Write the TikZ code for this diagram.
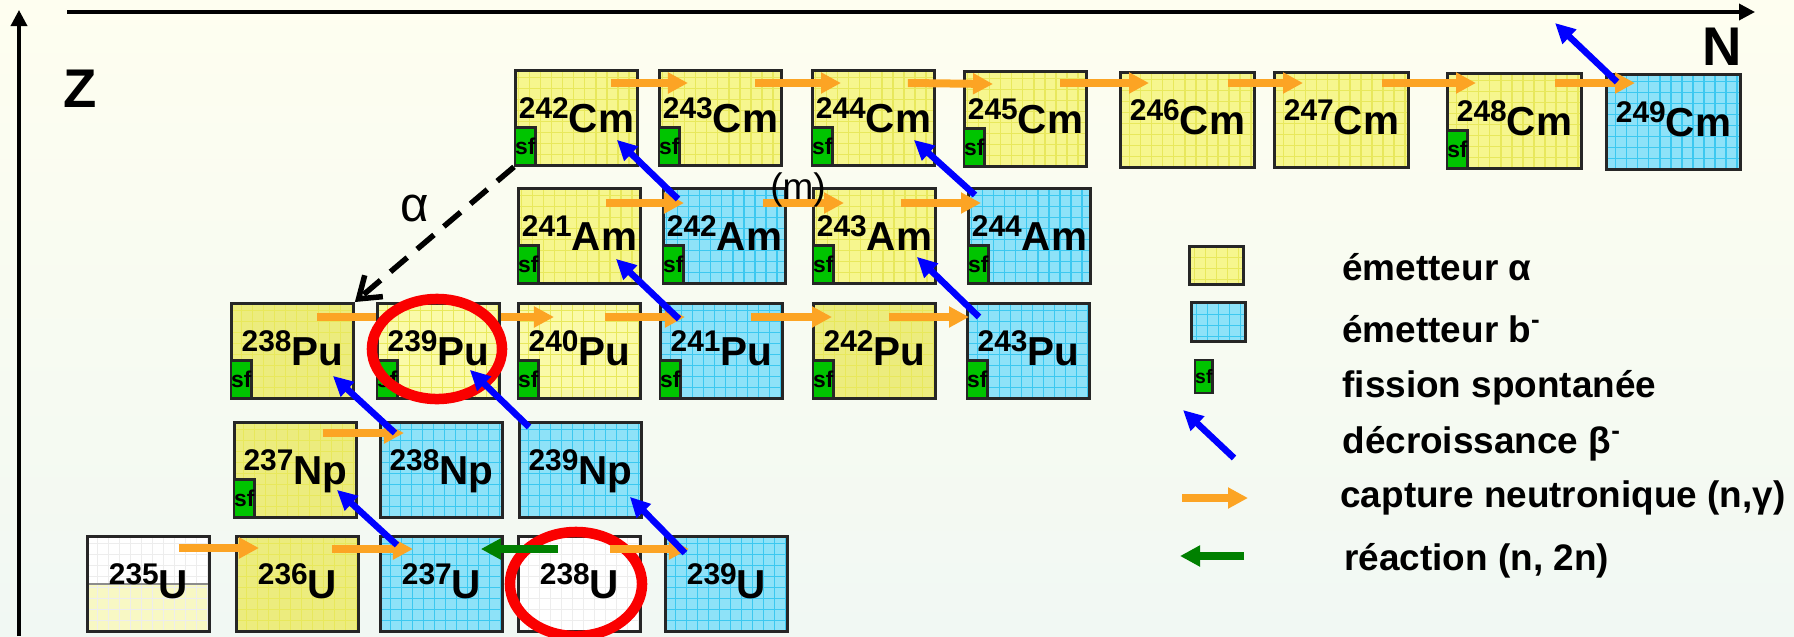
\documentclass[tikz,border=0pt]{standalone}
\usepackage{fontspec}
\setmainfont{Liberation Sans}
\usetikzlibrary{arrows.meta,calc}

\definecolor{bgtop}{RGB}{254,254,240}
\definecolor{bgbot}{RGB}{241,248,243}
\definecolor{nucyel}{RGB}{246,246,142}
\definecolor{nucyeldk}{RGB}{236,236,126}
\definecolor{nucyellt}{RGB}{250,250,168}
\definecolor{nucyelgrid}{RGB}{232,232,92}
\definecolor{nucpale}{RGB}{248,248,196}
\definecolor{nucblu}{RGB}{142,226,248}
\definecolor{nucblugrid}{RGB}{60,200,240}
\definecolor{sfgreen}{RGB}{0,196,0}
\definecolor{captorange}{RGB}{252,164,36}
\definecolor{betablue}{RGB}{0,0,255}
\definecolor{nngreen}{RGB}{0,128,0}
\definecolor{ringred}{RGB}{250,0,0}

\newcommand{\iso}[2]{\raisebox{4pt}{\fontsize{8.5}{9}\selectfont #1}#2}

\begin{document}
\begin{tikzpicture}[
    x=0.01cm, y=-0.01cm,
    nuc/.style={draw=black!85, line width=0.8pt, anchor=north west, inner sep=0pt,
        minimum width=1.22cm, minimum height=0.95cm, text height=8.2pt, text depth=0pt,
        font=\fontsize{11.5}{12}\selectfont\bfseries},
    widebox/.style={minimum width=1.34cm},
    alphaem/.style={nuc, fill=nucyel, path picture={\draw[nucyelgrid, line width=0.3pt]
        (path picture bounding box.south west) grid[step=0.11cm] (path picture bounding box.north east);}},
    alphadk/.style={alphaem, fill=nucyeldk},
    alphalt/.style={alphaem, fill=nucyellt},
    betaem/.style={nuc, fill=nucblu, path picture={\draw[nucblugrid, line width=0.3pt]
        (path picture bounding box.south west) grid[step=0.11cm] (path picture bounding box.north east);}},
    plainbox/.style={nuc, fill=white, path picture={\draw[black!7, line width=0.3pt]
        (path picture bounding box.south west) grid[step=0.11cm] (path picture bounding box.north east);}},
    halfbox/.style={nuc, fill=white, path picture={
        \fill[nucpale] (path picture bounding box.west) rectangle (path picture bounding box.south east);
        \draw[black!7, line width=0.3pt] (path picture bounding box.south west) grid[step=0.11cm] (path picture bounding box.north east);
        \draw[black!45, line width=0.6pt] (path picture bounding box.west) -- (path picture bounding box.east);}},
    sfbox/.style={draw=black!85, line width=0.7pt, fill=sfgreen, anchor=south west, inner sep=0pt,
        minimum width=0.17cm, minimum height=0.38cm, font=\fontsize{6.5}{7}\selectfont\bfseries},
    ncapt/.style={draw=captorange, line width=0.08cm, -{Triangle[length=0.2cm,width=0.2cm]}},
    nnreac/.style={draw=nngreen, line width=0.08cm, -{Triangle[length=0.2cm,width=0.2cm]}},
    betadec/.style={draw=betablue, line width=0.065cm, -{Triangle[length=0.2cm,width=0.19cm]}},
    alphadec/.style={line width=0.055cm, dash pattern=on 0.22cm off 0.13cm,
        -{Straight Barb[length=0.2cm,width=0.28cm]}},
    redring/.style={draw=ringred, line width=0.105cm},
    axis/.style={line width=1pt, -{Triangle[length=0.16cm,width=0.16cm]}},
    legtext/.style={anchor=base west, font=\fontsize{10.5}{12}\selectfont\bfseries}
]

% background
\shade[top color=bgtop, bottom color=bgbot] (0,0) rectangle (1794,636);
\useasboundingbox (0,0) rectangle (1794,636);

% axes
\coordinate (zbot) at (19,636);
\coordinate (ztop) at (19,10);
\draw[axis] (zbot) -- (ztop);
\coordinate (nstart) at (67,12);
\coordinate (nend) at (1755,12);
\draw[axis] (nstart) -- (nend);
\node[font=\fontsize{15.5}{16}\selectfont\bfseries] (zlabel) at (80,89) {Z};
\node[font=\fontsize{15.5}{16}\selectfont\bfseries] (nlabel) at (1722,47) {N};

% Cm
\node[alphaem] (cm242) at (514,69) {\iso{242}{Cm}};
\node[alphaem] (cm243) at (658,69) {\iso{243}{Cm}};
\node[alphaem] (cm244) at (811,69) {\iso{244}{Cm}};
\node[alphaem] (cm245) at (963,70) {\iso{245}{Cm}};
\node[alphaem, widebox] (cm246) at (1119,71) {\iso{246}{Cm}};
\node[alphaem, widebox] (cm247) at (1273,71) {\iso{247}{Cm}};
\node[alphaem, widebox] (cm248) at (1446,72) {\iso{248}{Cm}};
\node[betaem, widebox] (cm249) at (1605,73) {\iso{249}{Cm}};
\node[sfbox] (sfcm242) at (cm242.south west) {sf};
\node[sfbox] (sfcm243) at (cm243.south west) {sf};
\node[sfbox] (sfcm244) at (cm244.south west) {sf};
\node[sfbox] (sfcm245) at (cm245.south west) {sf};
\node[sfbox] (sfcm248) at (cm248.south west) {sf};

% Am
\node[alphaem] (am241) at (517,187) {\iso{241}{Am}};
\node[betaem] (am242) at (662,187) {\iso{242}{Am}};
\node[alphaem] (am243) at (812,187) {\iso{243}{Am}};
\node[betaem] (am244) at (967,187) {\iso{244}{Am}};
\node[sfbox] (sfam241) at (am241.south west) {sf};
\node[sfbox] (sfam242) at (am242.south west) {sf};
\node[sfbox] (sfam243) at (am243.south west) {sf};
\node[sfbox] (sfam244) at (am244.south west) {sf};

% Pu (239Pu comes after the captures)
\node[alphadk] (pu238) at (230,302) {\iso{238}{Pu}};
\coordinate (pu239nw) at (376,302);
\coordinate (pu239ne) at (498,302);
\node[alphalt] (pu240) at (517,302) {\iso{240}{Pu}};
\node[betaem] (pu241) at (659,302) {\iso{241}{Pu}};
\node[alphadk] (pu242) at (812,302) {\iso{242}{Pu}};
\node[betaem] (pu243) at (966,302) {\iso{243}{Pu}};
\node[sfbox] (sfpu238) at (pu238.south west) {sf};
\node[sfbox] (sfpu240) at (pu240.south west) {sf};
\node[sfbox] (sfpu241) at (pu241.south west) {sf};
\node[sfbox] (sfpu242) at (pu242.south west) {sf};
\node[sfbox] (sfpu243) at (pu243.south west) {sf};

% Np
\node[alphadk] (np237) at (233,421) {\iso{237}{Np}};
\node[betaem] (np238) at (379,421) {\iso{238}{Np}};
\node[betaem] (np239) at (518,421) {\iso{239}{Np}};
\node[sfbox] (sfnp237) at (np237.south west) {sf};

% U
\node[halfbox] (u235) at (86,535) {\iso{235}{U}};
\node[alphadk] (u236) at (235,535) {\iso{236}{U}};
\node[betaem] (u237) at (379,535) {\iso{237}{U}};
\node[plainbox] (u238) at (517,535) {\iso{238}{U}};
\node[betaem] (u239) at (664,535) {\iso{239}{U}};

\draw[redring] (576,584) ellipse [x radius=0.66cm, y radius=0.52cm];

% neutron captures
\draw[ncapt] ($(cm242.north east)+(-28,14)$) -- ($(cm243.north west)+(30,14)$);
\draw[ncapt] ($(cm243.north east)+(-28,14)$) -- ($(cm244.north west)+(30,14)$);
\draw[ncapt] ($(cm244.north east)+(-28,14)$) -- ($(cm245.north west)+(30,14)$);
\draw[ncapt] ($(cm245.north east)+(-28,13)$) -- ($(cm246.north west)+(30,12)$);
\draw[ncapt] ($(cm246.north east)+(-28,12)$) -- ($(cm247.north west)+(30,12)$);
\draw[ncapt] ($(cm247.north east)+(-28,12)$) -- ($(cm248.north west)+(30,11)$);
\draw[ncapt] ($(cm248.north east)+(-28,11)$) -- ($(cm249.north west)+(30,10)$);
\draw[ncapt] ($(am241.north east)+(-36,16)$) -- ($(am242.north west)+(22,16)$);
\draw[ncapt] ($(am242.north east)+(-24,16)$) -- ($(am243.north west)+(32,16)$);
\draw[ncapt] ($(am243.north east)+(-36,16)$) -- ($(am244.north west)+(14,16)$);
\draw[ncapt] ($(pu238.north east)+(-38,15)$) -- ($(pu239nw)+(30,15)$);
\draw[ncapt] ($(pu239ne)+(-28,15)$) -- ($(pu240.north west)+(37,15)$);
\draw[ncapt] ($(pu240.north east)+(-37,15)$) -- ($(pu241.north west)+(26,15)$);
\draw[ncapt] ($(pu241.north east)+(-33,15)$) -- ($(pu242.north west)+(20,15)$);
\draw[ncapt] ($(pu242.north east)+(-48,15)$) -- ($(pu243.north west)+(3,15)$);
\draw[ncapt] ($(np237.north east)+(-35,12)$) -- ($(np238.north west)+(25,12)$);
\draw[ncapt] ($(u235.north east)+(-32,13)$) -- ($(u236.north west)+(24,13)$);
\draw[ncapt] ($(u236.north east)+(-28,14)$) -- ($(u237.north west)+(34,14)$);
\draw[ncapt] ($(u238.north east)+(-32,14)$) -- ($(u239.north west)+(25,14)$);

% (n,2n)
\draw[nnreac] ($(u238.north west)+(41,14)$) -- ($(u237.north east)+(-23,14)$);

% 239Pu on top of its captures
\node[alphalt] (pu239) at (pu239nw) {\iso{239}{Pu}};
\node[sfbox] (sfpu239) at (pu239.south west) {sf};
\draw[redring] (437,349) ellipse [x radius=0.65cm, y radius=0.50cm];

% beta decays
\draw[betadec] ($(am242.north west)+(16,12)$) -- ($(cm242.south east)+(-22,-27)$);
\draw[betadec] ($(am244.north west)+(8,8)$) -- ($(cm244.south east)+(-22,-27)$);
\draw[betadec] ($(pu241.north west)+(20,17)$) -- ($(am241.south east)+(-26,-26)$);
\draw[betadec] ($(pu243.north west)+(13,15)$) -- ($(am243.south east)+(-20,-28)$);
\draw[betadec] ($(np238.north west)+(16,12)$) -- ($(pu238.south east)+(-22,-24)$);
\draw[betadec] ($(np239.north west)+(11,6)$) -- ($(pu239.south east)+(-31,-30)$);
\draw[betadec] ($(u237.north west)+(18,10)$) -- ($(np237.south east)+(-21,-29)$);
\draw[betadec] ($(u239.north west)+(21,18)$) -- ($(np239.south east)+(-13,-22)$);
\coordinate (cmout) at (1555,23);
\draw[betadec] ($(cm249.north west)+(12,9)$) -- (cmout);

% alpha decay
\draw[alphadec] (cm242.south west) -- (pu238.north east);
\node[font=\fontsize{14}{14}\selectfont] (alphalabel) at (415,208) {α};
\node[font=\fontsize{10.5}{11}\selectfont] (mlabel) at (798,190) {(m)};

% legend
\node[alphaem, minimum width=0.54cm, minimum height=0.38cm] (legalpha) at (1188,245) {};
\node[betaem, minimum width=0.54cm, minimum height=0.39cm] (legbeta) at (1190,301) {};
\node[sfbox, anchor=north west, minimum width=0.15cm, minimum height=0.33cm,
    font=\fontsize{5.5}{6}\selectfont\bfseries] (legsf) at (1194,359) {sf};
\coordinate (legbetaA) at (1234,458);
\coordinate (legbetaB) at (1183,410);
\draw[betadec] (legbetaA) -- (legbetaB);
\coordinate (legcaptA) at (1182,498);
\coordinate (legcaptB) at (1248,498);
\draw[ncapt] (legcaptA) -- (legcaptB);
\coordinate (legnnA) at (1244,556);
\coordinate (legnnB) at (1180,556);
\draw[nnreac] (legnnA) -- (legnnB);

\node[legtext] (txtalpha) at (1330,280) {émetteur α};
\node[legtext] (txtbeta) at (1330,342) {émetteur b\textsuperscript{-}};
\node[legtext] (txtsf) at (1330,397) {fission spontanée};
\node[legtext] (txtdec) at (1330,453) {décroissance β\textsuperscript{-}};
\node[legtext] (txtcapt) at (1328,507) {capture neutronique (n,γ)};
\node[legtext] (txtnn) at (1332,570) {réaction (n, 2n)};

\end{tikzpicture}
\end{document}
